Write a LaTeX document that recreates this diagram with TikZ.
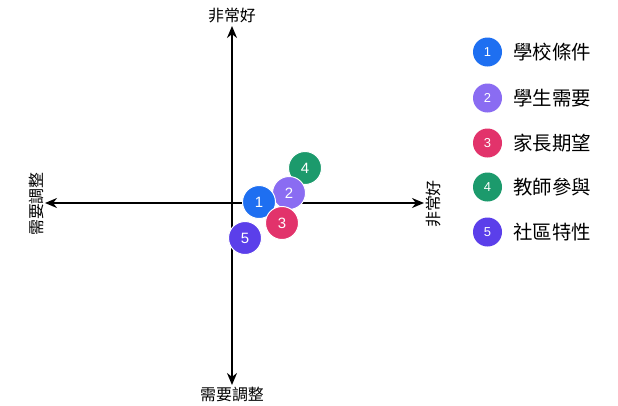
\documentclass[tikz,border=0pt]{standalone}
\usepackage{fontspec}
\setmainfont{Noto Sans CJK TC}
\newfontfamily\numfont{Liberation Sans}
\usetikzlibrary{arrows.meta}
\definecolor{cA}{HTML}{1E6FF1}
\definecolor{cB}{HTML}{8A6CF2}
\definecolor{cC}{HTML}{E2336B}
\definecolor{cD}{HTML}{1C9A6C}
\definecolor{cE}{HTML}{5B3FEA}
\begin{document}
\begin{tikzpicture}[x=1bp,y=-1bp,
  axis/.style={line width=1.6bp,-{Stealth[length=12bp,width=10bp]}},
  axlabel/.style={font=\fontsize{16}{16}\selectfont,inner sep=0pt},
  dot/.style={circle,minimum size=33bp,inner sep=0pt,draw=white,line width=1bp,text=white,font=\numfont\fontsize{15}{15}\selectfont},
  ldot/.style={circle,minimum size=29bp,inner sep=0pt,text=white,font=\numfont\fontsize{13}{13}\selectfont},
  ltext/.style={anchor=west,inner sep=0pt,font=\fontsize{19.5}{19.5}\selectfont}]
\useasboundingbox[fill=white] (0,0) rectangle (618,405);
\coordinate (o) at (232,203);
\coordinate (t) at (232,26);
\coordinate (b) at (232,385);
\coordinate (l) at (45,203);
\coordinate (r) at (424,203);
\draw[axis] (o) -- (t);
\draw[axis] (o) -- (b);
\draw[axis] (o) -- (l);
\draw[axis] (o) -- (r);
\node[axlabel] (tl) at (232,16) {非常好};
\node[axlabel] (bl) at (232,394) {需要調整};
\node[axlabel,rotate=90] (ll) at (36,204) {需要調整};
\node[axlabel,rotate=90] (rl) at (434,204) {非常好};
\node[dot,fill=cD] (n4) at (305,168) {4};
\node[dot,fill=cB] (n2) at (289,193) {2};
\node[dot,fill=cA] (n1) at (259,202) {1};
\node[dot,fill=cC] (n3) at (282,223) {3};
\node[dot,fill=cE] (n5) at (245,238) {5};
\node[ldot,fill=cA] (k1) at (487.5,52) {1};
\node[ldot,fill=cB] (k2) at (487.5,98) {2};
\node[ldot,fill=cC] (k3) at (487.5,143) {3};
\node[ldot,fill=cD] (k4) at (487.5,187) {4};
\node[ldot,fill=cE] (k5) at (487.5,232) {5};
\node[ltext] (t1) at (513,52) {學校條件};
\node[ltext] (t2) at (513,98) {學生需要};
\node[ltext] (t3) at (513,143) {家長期望};
\node[ltext] (t4) at (513,187) {教師參與};
\node[ltext] (t5) at (513,232) {社區特性};
\end{tikzpicture}
\end{document}
